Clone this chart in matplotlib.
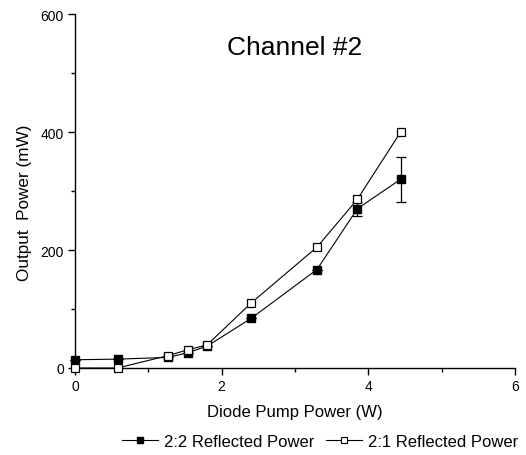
import matplotlib
matplotlib.use("Agg")
import matplotlib.pyplot as plt
from matplotlib.ticker import MultipleLocator
from matplotlib.lines import Line2D

plt.rcParams['font.family'] = ['Liberation Sans', 'DejaVu Sans']

pump = [0.0, 0.58, 1.27, 1.54, 1.80, 2.40, 3.30, 3.85, 4.44]
p22 = [14, 15, 18, 26, 37, 84, 167, 270, 320]
p22_err = [0, 0, 0, 0, 0, 0, 0, 12, 38]
p21 = [0, 0, 21, 31, 39, 110, 205, 286, 400]

fig = plt.figure(figsize=(5.26, 4.56), dpi=100)
ax = fig.add_axes([0.1426, 0.1908, 0.8365, 0.776])

ax.errorbar(pump, p22, yerr=p22_err, color='black', lw=0.8, marker='s',
            ms=5.5, mfc='black', mec='black', capsize=3.4, elinewidth=0.9,
            capthick=0.9, clip_on=False, zorder=3)
ax.plot(pump, p21, color='black', lw=0.8, marker='s', ms=5.5,
        mfc='white', mec='black', mew=0.9, clip_on=False, zorder=4)

ax.set_xlim(0, 6)
ax.set_ylim(0, 600)
ax.xaxis.set_major_locator(MultipleLocator(2))
ax.xaxis.set_minor_locator(MultipleLocator(1))
ax.yaxis.set_major_locator(MultipleLocator(200))
ax.yaxis.set_minor_locator(MultipleLocator(100))
for s in ['top', 'right']:
    ax.spines[s].set_visible(False)
for s in ['left', 'bottom']:
    ax.spines[s].set_linewidth(1.0)
ax.tick_params(which='major', direction='out', length=5, width=1.0, labelsize=10, pad=3)
ax.tick_params(which='minor', direction='out', length=3, width=1.0)

ax.set_xlabel('Diode Pump Power (W)', fontsize=12, labelpad=8)
ax.set_ylabel('Output  Power (mW)', fontsize=12.3)
ax.yaxis.set_label_coords(-0.098, 0.47)
ax.text(0.5, 0.907, 'Channel #2', transform=ax.transAxes, fontsize=19,
        ha='center', va='center')

h1 = Line2D([], [], color='black', lw=0.8, marker='s', ms=4.6, mfc='black', mec='black')
h2 = Line2D([], [], color='black', lw=0.8, marker='s', ms=4.6, mfc='white', mec='black', mew=0.8)
fig.legend(handles=[h1, h2], labels=['2:2 Reflected Power', '2:1 Reflected Power'],
           loc='center', bbox_to_anchor=(0.609, 0.029), ncol=2, frameon=False,
           fontsize=12, handlelength=2.15, handletextpad=0.36, columnspacing=0.72,
           borderpad=0)

fig.savefig('out.png', dpi=100)
